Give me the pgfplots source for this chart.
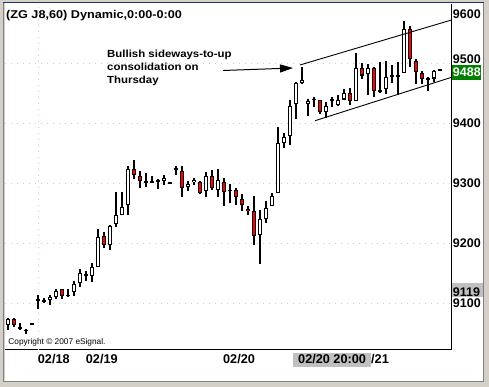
\documentclass[border=0pt]{standalone}
\usepackage{pgfplots}
\pgfplotsset{compat=1.18}
\usepackage{pgfplotstable}
\usepackage{fontspec}
\setmainfont{Liberation Sans}
\usetikzlibrary{arrows.meta}
\definecolor{frameg}{RGB}{212,208,200}
\definecolor{darkg}{RGB}{128,128,128}
\definecolor{navy}{RGB}{30,50,120}
\definecolor{gridc}{RGB}{232,190,200}
\definecolor{boxgray}{RGB}{192,192,192}
\definecolor{boxgreen}{RGB}{0,128,0}
\definecolor{cred}{RGB}{255,0,0}
\pgfplotstableread{
i o h l c
0 9063 9075 9055 9073
1 9073 9075 9060 9063
2 9060 9066 9055 9057
3 9054 9057 9049 9054
4 9065 9065 9065 9065
5 9105 9113 9090 9105
6 9104 9108 9100 9104
7 9105 9114 9097 9110
8 9110 9124 9106 9120
9 9123 9123 9106 9112
10 9111 9123 9110 9114
11 9118 9136 9112 9132
12 9133 9156 9126 9150
13 9146 9154 9137 9146
14 9145 9167 9135 9160
15 9160 9223 9160 9210
16 9211 9218 9192 9196
17 9196 9230 9188 9229
18 9232 9285 9226 9246
19 9247 9285 9247 9260
20 9263 9328 9247 9323
21 9323 9339 9306 9313
22 9311 9320 9291 9303
23 9302 9316 9294 9302
24 9302 9312 9302 9302
25 9303 9306 9290 9303
26 9304 9313 9296 9308
27 9300 9300 9300 9300
28 9323 9328 9314 9323
29 9320 9328 9276 9292
30 9293 9303 9287 9298
31 9301 9308 9296 9305
32 9301 9303 9281 9283
33 9286 9318 9276 9312
34 9311 9322 9288 9291
35 9288 9323 9277 9305
36 9301 9308 9262 9285
37 9286 9299 9266 9289
38 9288 9292 9264 9277
39 9274 9282 9254 9263
40 9257 9262 9246 9253
41 9253 9278 9196 9212
42 9213 9255 9165 9240
43 9240 9270 9233 9259
44 9262 9283 9262 9279
45 9283 9393 9283 9366
46 9366 9383 9359 9376
47 9378 9438 9364 9429
48 9432 9469 9407 9466
49 9466 9494 9465 9472
50 9432 9440 9412 9437
51 9439 9443 9426 9439
52 9439 9439 9415 9419
53 9419 9435 9409 9428
54 9438 9444 9426 9438
55 9430 9446 9428 9439
56 9439 9457 9439 9450
57 9450 9458 9430 9437
58 9437 9516 9437 9491
59 9491 9500 9473 9479
60 9481 9499 9447 9491
61 9491 9494 9443 9453
62 9453 9502 9450 9453
63 9456 9504 9448 9477
64 9478 9496 9466 9478
65 9479 9502 9447 9479
66 9483 9570 9483 9556
67 9557 9562 9494 9506
68 9503 9507 9465 9485
69 9483 9486 9465 9473
70 9473 9476 9453 9473
71 9474 9488 9468 9487
72 9488 9488 9488 9488
}\candles
\begin{document}
\begin{tikzpicture}
\useasboundingbox (0pt,0pt) rectangle (489pt,387pt);
% window frame
\fill[frameg] (0pt,0pt) rectangle (489pt,387pt);
\fill[white] (5pt,6pt) rectangle (483pt,384pt);
\draw[darkg, line width=1.5pt] (3.5pt,5pt) -- (3.5pt,385pt);
\draw[darkg, line width=1pt] (483.5pt,5pt) -- (483.5pt,385pt);
\draw[darkg, line width=1pt] (3pt,5.5pt) -- (484pt,5.5pt);
\draw[navy, line width=1.3pt] (3pt,384.5pt) -- (484pt,384.5pt);
\begin{axis}[
  at={(5pt,37pt)}, anchor=south west,
  scale only axis, width=446.7pt, height=346pt,
  xmin=-0.5, xmax=73.95, ymin=9021.67, ymax=9598.3,
  axis x line*=bottom, axis y line*=right,
  axis line style={-, black, line width=1pt},
  major tick length=0pt,
  xtick={4.95,12.95,35.83,60.5},
  xticklabels={02/18,02/19,02/20,/21},
  xticklabel style={anchor=base west, inner sep=0pt, yshift=-13.7pt, font=\fontsize{12.7}{14}\selectfont\bfseries},
  extra x ticks={5},
  extra x tick labels={},
  extra x tick style={grid=major},
  ytick={9100,9200,9300,9400,9500},
  yticklabels={9100,9200,9300,9400,{}},
  yticklabel style={anchor=base west, inner sep=0pt, xshift=1pt, yshift=-4.7pt, font=\fontsize{12.5}{14}\selectfont\bfseries},
  ymajorgrids,
  major grid style={gridc, line width=0.8pt, dash pattern=on 1pt off 5pt},
  clip=false,
]
% wicks
\addplot[draw=none, mark=none, forget plot,
  error bars/.cd, y dir=plus, y explicit, error mark=none,
  error bar style={draw=black, line width=1.1pt}]
  table[x=i, y expr=\thisrow{l}, y error plus expr=\thisrow{h}-\thisrow{l}] {\candles};
% body outlines
\addplot[draw=none, mark=none, forget plot,
  error bars/.cd, y dir=plus, y explicit, error mark=none,
  error bar style={draw=black, line width=4.6pt}]
  table[x=i, y expr={(\thisrow{o}+\thisrow{c})/2-max(abs(\thisrow{c}-\thisrow{o}),3)/2},
        y error plus expr={max(abs(\thisrow{c}-\thisrow{o}),3)}] {\candles};
% white inner
\addplot[draw=none, mark=none, forget plot,
  error bars/.cd, y dir=plus, y explicit, error mark=none,
  error bar style={draw=white, line width=2.4pt}]
  table[x=i, y expr={min(\thisrow{o},\thisrow{c})+1.8},
        y error plus expr={max(abs(\thisrow{c}-\thisrow{o})-3.6,0)}] {\candles};
% red inner (down candles)
\addplot[draw=none, mark=none, forget plot,
  restrict expr to domain={\thisrow{o}-\thisrow{c}}{0.5:100000},
  error bars/.cd, y dir=plus, y explicit, error mark=none,
  error bar style={draw=cred, line width=2.4pt}]
  table[x=i, y expr={min(\thisrow{o},\thisrow{c})+1.8},
        y error plus expr={max(abs(\thisrow{c}-\thisrow{o})-3.6,0)}] {\candles};
% trend channel
\addplot[black, line width=0.9pt, mark=none] coordinates {(48.67,9496.7) (73.95,9571.7)};
\addplot[black, line width=0.9pt, mark=none] coordinates {(51.17,9403.8) (73.95,9476.2)};
\end{axis}
% price labels
\node[anchor=base west, inner sep=0pt, font=\fontsize{12.5}{14}\selectfont\bfseries] at (452.7pt,368pt) {9600};
\node[anchor=base west, inner sep=0pt, font=\fontsize{12.5}{14}\selectfont\bfseries] at (452.7pt,323.3pt) {9500};
\fill[boxgreen] (451.7pt,307pt) rectangle (480.5pt,322pt);
\node[anchor=base west, inner sep=0pt, text=white, font=\fontsize{12.5}{14}\selectfont\bfseries] at (452.7pt,310.3pt) {9488};
\fill[boxgray] (452.2pt,89.7pt) rectangle (483pt,103.7pt);
\node[anchor=base west, inner sep=0pt, font=\fontsize{12.5}{14}\selectfont\bfseries] at (452.7pt,90.5pt) {9119};
% cursor date box
\fill[boxgray] (293pt,20.3pt) rectangle (370.7pt,34.3pt);
\node[anchor=base west, inner sep=0pt, font=\fontsize{12.7}{14}\selectfont\bfseries] at (298pt,23.3pt) {02/20 20:00};
% title
\node[anchor=base west, inner sep=0pt, font=\fontsize{11.3}{13}\selectfont\bfseries] at (6pt,368pt) {\scalebox{1.12}[1]{(ZG J8,60) Dynamic,0:00-0:00}};
% annotation
\node[anchor=base west, inner sep=0pt, font=\fontsize{10.3}{12}\selectfont\bfseries] at (107pt,329.7pt) {\scalebox{1.11}[1]{Bullish sideways-to-up}};
\node[anchor=base west, inner sep=0pt, font=\fontsize{10.3}{12}\selectfont\bfseries] at (107pt,316.3pt) {\scalebox{1.11}[1]{consolidation on}};
\node[anchor=base west, inner sep=0pt, font=\fontsize{10.3}{12}\selectfont\bfseries] at (107pt,303pt) {\scalebox{1.11}[1]{Thursday}};
\draw[black, line width=1pt, -{Triangle[length=13pt,width=8pt]}] (223pt,316.5pt) -- (293pt,319pt);
% copyright
\node[anchor=base west, inner sep=0pt, font=\fontsize{8.3}{10}\selectfont] at (8.3pt,42pt) {Copyright \textcopyright{} 2007 eSignal.};
\end{tikzpicture}
\end{document}
